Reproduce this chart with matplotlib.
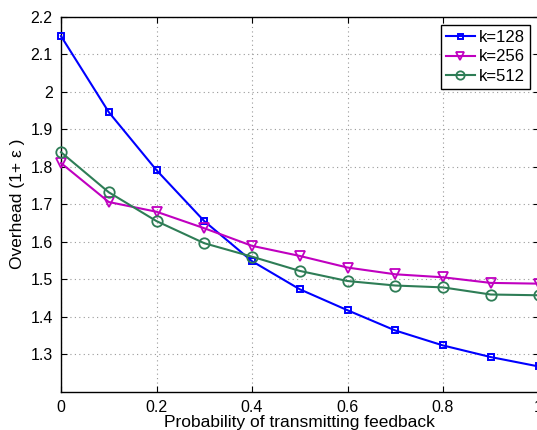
import matplotlib
matplotlib.use("Agg")
import matplotlib.pyplot as plt

plt.rcParams['font.family'] = ['Liberation Sans', 'DejaVu Sans']

# Data
prob = [0.0, 0.1, 0.2, 0.3, 0.4, 0.5, 0.6, 0.7, 0.8, 0.9, 1.0]
k128 = [2.149, 1.946, 1.791, 1.655, 1.548, 1.473, 1.417, 1.363, 1.323, 1.292, 1.267]
k256 = [1.810, 1.706, 1.680, 1.636, 1.589, 1.562, 1.531, 1.513, 1.505, 1.490, 1.488]
k512 = [1.839, 1.732, 1.655, 1.596, 1.560, 1.522, 1.495, 1.483, 1.478, 1.459, 1.457]

x_ticks = [0, 0.2, 0.4, 0.6, 0.8, 1.0]
x_ticklabels = ["0", "0.2", "0.4", "0.6", "0.8", "1"]
y_ticks = [1.3, 1.4, 1.5, 1.6, 1.7, 1.8, 1.9, 2.0, 2.1, 2.2]
y_ticklabels = ["1.3", "1.4", "1.5", "1.6", "1.7", "1.8", "1.9", "2", "2.1", "2.2"]

fig = plt.figure(figsize=(5.37, 4.30), dpi=100, facecolor="white")
ax = fig.add_axes([0.1136, 0.0895, 0.8892, 0.871])

ax.plot(prob, k128, color="#0000ff", lw=1.5, marker="s", ms=4.5, mfc="none",
        mew=1.4, label="k=128", clip_on=False, zorder=3)
ax.plot(prob, k256, color="#c000c0", lw=1.5, marker="v", ms=7.5, mfc="none",
        mew=1.3, label="k=256", clip_on=False, zorder=3)
ax.plot(prob, k512, color="#2e7d56", lw=1.5, marker="o", ms=7.5, mfc="none",
        mew=1.3, label="k=512", clip_on=False, zorder=3)

ax.set_xlim(0, 1)
ax.set_ylim(1.2, 2.2)
ax.set_xticks(x_ticks)
ax.set_xticklabels(x_ticklabels)
ax.set_yticks(y_ticks)
ax.set_yticklabels(y_ticklabels)
ax.tick_params(direction="in", length=4, width=0.8, labelsize=11.5,
               top=True, right=True, pad=6, colors="black")
ax.grid(True, ls=(0, (1, 3)), color="#999999", lw=0.8)
for s in ax.spines.values():
    s.set_linewidth(1.0)

ax.set_xlabel("Probability of transmitting feedback", fontsize=12.5, labelpad=0)
ax.set_ylabel("Overhead (1+ ε )", fontsize=12.5, labelpad=4)

leg = ax.legend(loc="upper right", bbox_to_anchor=(0.982, 0.978), fontsize=12,
                fancybox=False, framealpha=1, edgecolor="black",
                handlelength=1.75, handletextpad=0.25, borderpad=0.3,
                labelspacing=0.25, borderaxespad=0, markerscale=0.8)
leg.get_frame().set_linewidth(1.0)

fig.savefig("out.png", dpi=100, facecolor="white")
